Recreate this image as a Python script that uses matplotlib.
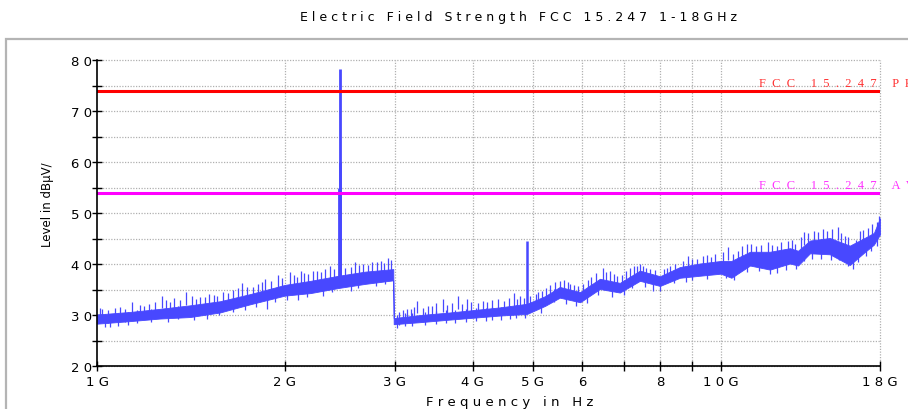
import matplotlib
matplotlib.use("Agg")
import matplotlib.pyplot as plt
from matplotlib.patches import Rectangle
from matplotlib.ticker import NullLocator

# band of the measured trace (GHz, dBuV/m)
band_freq = [1.00, 1.13, 1.26, 1.41, 1.575, 1.76, 2.00, 2.20, 2.44, 2.69, 2.985,
             2.99, 3.30, 3.68, 4.04, 4.43, 4.89, 5.23, 5.52, 5.95, 6.40, 6.89,
             7.42, 7.99, 8.60, 9.26, 10.0, 10.4, 11.14, 11.99, 12.91, 13.3,
             13.9, 14.96, 16.1, 17.0, 17.6, 18.0]
band_low = [28.3, 28.8, 29.3, 29.6, 30.5, 32.1, 33.8, 34.3, 35.3, 36.1, 36.8,
            28.2, 28.6, 29.1, 29.5, 29.9, 30.2, 31.8, 33.4, 32.5, 35.1, 34.4,
            36.7, 35.7, 37.3, 37.7, 38.1, 37.3, 39.7, 38.9, 40.1, 39.7,
            42.1, 41.9, 39.8, 42.3, 43.8, 45.8]
band_high = [30.1, 30.6, 31.2, 31.9, 32.7, 34.1, 35.9, 36.7, 37.7, 38.5, 39.0,
             29.4, 30.0, 30.5, 31.0, 31.5, 32.2, 33.7, 35.5, 34.5, 37.1, 36.3,
             38.7, 37.6, 39.4, 40.1, 40.6, 40.6, 42.4, 42.4, 43.1, 42.6,
             44.6, 45.1, 43.6, 45.1, 46.1, 49.0]

# narrow peaks sticking out of the top of the band
spike_freq = [1.01, 1.02, 1.04, 1.07, 1.09, 1.11, 1.14, 1.17, 1.19, 1.21, 1.24,
              1.27, 1.29, 1.31, 1.33, 1.36, 1.39, 1.42, 1.44, 1.46, 1.49, 1.51,
              1.54, 1.56, 1.59, 1.62, 1.65, 1.68, 1.71, 1.74, 1.78, 1.81, 1.84,
              1.86, 1.90, 1.95, 1.98,
              2.04, 2.07, 2.09, 2.12, 2.15, 2.18, 2.22, 2.25, 2.29, 2.32, 2.36,
              2.40, 2.50, 2.55, 2.59, 2.63, 2.67, 2.72, 2.76, 2.81, 2.85, 2.89,
              2.93, 2.96,
              3.05, 3.09, 3.14, 3.19, 3.22, 3.26, 3.33, 3.39, 3.45, 3.50, 3.59,
              3.64, 3.71, 3.79, 3.85, 3.92, 3.98, 4.08, 4.16, 4.22, 4.30, 4.40,
              4.50, 4.58, 4.67, 4.72, 4.77, 4.83,
              4.95, 5.05, 5.10, 5.17, 5.25, 5.33, 5.42, 5.53, 5.60, 5.68, 5.74,
              5.82, 5.90, 6.02, 6.12, 6.20, 6.30, 6.48, 6.55, 6.64, 6.75, 6.82,
              6.95, 7.05, 7.15, 7.25, 7.34, 7.42, 7.50, 7.60, 7.70, 7.85, 8.10,
              8.20, 8.30, 8.45, 8.70, 8.85, 9.00, 9.17, 9.35, 9.50, 9.65, 9.80,
              10.1, 10.28, 10.45, 10.65, 10.8, 11.0, 11.2, 11.4, 11.6, 11.9,
              12.1, 12.3, 12.5, 12.8, 13.0, 13.15, 13.45, 13.6, 13.8, 14.1,
              14.3, 14.6, 14.8, 15.1, 15.4, 15.6, 15.8, 16.0, 16.45, 16.7,
              16.9, 17.2, 17.5, 17.8, 17.95]
spike_top = [31.3, 31.2, 31.0, 31.4, 31.6, 31.2, 32.5, 32.0, 31.8, 32.2, 32.6,
             33.8, 32.9, 32.5, 33.3, 33.0, 34.5, 33.8, 33.2, 33.5, 33.6, 34.1,
             34.0, 33.7, 34.5, 34.3, 35.0, 35.3, 36.3, 35.4, 35.5, 36.1, 36.4,
             37.0, 36.6, 37.8, 37.3,
             38.4, 37.8, 37.5, 38.7, 38.2, 38.0, 38.6, 38.7, 38.4, 39.0, 39.7,
             39.0, 39.2, 39.5, 40.3, 39.8, 40.0, 39.9, 40.4, 40.3, 40.6, 40.2,
             41.2, 40.8,
             30.6, 30.9, 31.2, 31.1, 31.5, 32.8, 31.4, 31.8, 31.8, 32.3, 33.1,
             32.0, 32.4, 33.7, 32.2, 33.1, 32.5, 32.4, 32.8, 32.6, 32.9, 33.1,
             32.8, 33.3, 34.3, 33.1, 33.8, 33.4,
             33.7, 34.2, 34.6, 34.8, 35.3, 35.8, 36.5, 36.7, 36.9, 36.4, 36.1,
             35.9, 35.6, 36.0, 36.9, 37.5, 38.2, 39.2, 38.5, 38.7, 38.0, 37.7,
             37.8, 38.6, 39.2, 39.6, 39.7, 40.0, 39.7, 39.3, 39.0, 38.9, 39.1,
             39.3, 39.6, 40.0, 40.6, 41.6, 41.0, 41.0, 41.5, 41.8, 41.4, 42.0,
             42.3, 43.3, 42.0, 42.6, 43.5, 43.9, 44.0, 43.6, 43.8, 44.3,
             43.8, 43.6, 44.4, 44.6, 44.8, 44.0, 45.2, 46.2, 46.0, 46.4,
             46.2, 46.9, 46.5, 46.8, 47.2, 46.0, 45.5, 45.2, 44.8, 46.5,
             46.6, 47.0, 47.8, 48.2, 49.5]

# narrow drops below the bottom of the band
dip_freq = [1.03, 1.05, 1.08, 1.12, 1.16, 1.22, 1.30, 1.35, 1.43, 1.50, 1.57,
            1.65, 1.73, 1.80, 1.87, 1.93, 2.02, 2.10, 2.17, 2.30, 2.38, 2.55,
            2.62, 2.80, 2.90,
            3.03, 3.12, 3.20, 3.35, 3.50, 3.62, 3.75, 3.90, 4.05, 4.20, 4.30,
            4.45, 4.60, 4.70, 4.85,
            5.15, 5.40, 5.65, 5.85, 6.10, 6.35, 6.70, 7.00, 7.20, 7.55, 7.80,
            8.00, 8.40, 8.80, 9.00, 9.50, 10.2, 10.5, 11.0, 11.5, 12.0, 12.3,
            12.7, 13.2, 13.6, 14.0, 14.5, 15.0, 15.5, 16.0, 16.3, 16.6, 17.1,
            17.4, 17.8]
dip_bottom = [27.7, 27.6, 27.9, 28.0, 28.4, 28.7, 28.6, 29.2, 29.0, 29.3, 30.0,
              30.5, 31.0, 31.5, 31.2, 32.6, 33.0, 33.0, 33.6, 33.8, 34.6, 34.8,
              35.2, 35.6, 36.0,
              27.5, 27.9, 27.9, 28.0, 28.3, 28.5, 28.4, 28.7, 28.9, 28.8, 29.0,
              29.1, 29.2, 29.4, 29.5,
              30.4, 32.6, 32.2, 31.8, 32.4, 34.0, 33.6, 34.0, 35.2, 35.5, 34.8,
              34.8, 36.3, 36.5, 36.9, 37.0, 37.2, 36.9, 38.5, 38.6, 38.1, 38.3,
              38.9, 39.0, 40.5, 41.0, 41.0, 40.8, 40.8, 39.6, 39.0, 40.3, 41.5,
              42.6, 43.5]

# carrier and its harmonic
carrier_freq = [2.45, 2.452, 2.447, 4.89]
carrier_top = [78.3, 60.0, 55.0, 44.6]
carrier_base = [36.0, 36.0, 36.0, 31.0]

limit_pk = 74
limit_av = 54
xticks = [1, 2, 3, 4, 5, 6, 7, 8, 9, 10, 18]
xtick_labels = ["1G", "2G", "3G", "4G", "5G", "6", "", "8", "", "10G", "18G"]
yticks = [20, 30, 40, 50, 60, 70, 80]
yticks_minor = [25, 35, 45, 55, 65, 75]

TRACE = "#4848ff"
GRID = "#b0b0b0"
GRID_LS = (0, (1, 1.2))
SPIKE_LEN = 2.5


def spaced(s, gap=" "):
    return gap.join(s)


W, H = 908, 410
fig = plt.figure(figsize=(W / 100, H / 100), dpi=100)
ax = fig.add_axes([97 / W, 1 - 367 / H, 783 / W, 306 / H])

# outer grey frame
fig.add_artist(Rectangle((6 / W, -0.2), 2.0, (H - 40) / H + 0.2,
                         transform=fig.transFigure, fill=False,
                         ec="#b4b4b4", lw=1.6))

ax.set_xscale("log")
ax.set_xlim(1, 18)
ax.set_ylim(20, 80)

# dotted grid, drawn as plain lines
ax.hlines(yticks + yticks_minor, 1, 18, colors=GRID, linestyles=[GRID_LS],
          lw=0.9, zorder=1, clip_on=False)
ax.vlines(xticks[1:], 20, 80, colors=GRID, linestyles=[GRID_LS],
          lw=0.9, zorder=1, clip_on=False)

ax.fill_between(band_freq, band_low, band_high, color=TRACE, lw=0.6, zorder=3)
ax.vlines(spike_freq, [t - SPIKE_LEN for t in spike_top], spike_top,
          color=TRACE, lw=0.9, zorder=3)
ax.vlines(dip_freq, dip_bottom, [b + SPIKE_LEN for b in dip_bottom],
          color=TRACE, lw=0.9, zorder=3)
ax.vlines(carrier_freq, carrier_base, carrier_top,
          color=TRACE, lw=[2.0, 2.0, 2.0, 1.8], zorder=3)

ax.axhline(limit_pk, color="#ff0000", lw=2.2, zorder=4)
ax.axhline(limit_av, color="#ff00ff", lw=2.2, zorder=4)
ax.text(11.5, limit_pk + 0.4, spaced("FCC 15.247 PK", "  "), color="#ff3030",
        family="Liberation Serif", fontsize=9, va="bottom", ha="left",
        clip_on=False)
ax.text(11.5, limit_av + 0.4, spaced("FCC 15.247 AV", "  "), color="#ff30ff",
        family="Liberation Serif", fontsize=9, va="bottom", ha="left",
        clip_on=False)

ax.set_xticks(xticks)
ax.set_xticklabels([spaced(t) for t in xtick_labels])
ax.xaxis.set_minor_locator(NullLocator())
ax.set_yticks(yticks)
ax.set_yticklabels([spaced(str(t)) for t in yticks])
ax.set_yticks(yticks_minor, minor=True)

ax.tick_params(axis="both", which="major", direction="inout", length=7,
               width=1, labelsize=9.5)
ax.tick_params(axis="y", which="major", pad=0)
ax.tick_params(axis="x", which="major", pad=3)
ax.tick_params(axis="y", which="minor", direction="inout", length=7, width=1)

for side in ("top", "right"):
    ax.spines[side].set_visible(False)
for side in ("left", "bottom"):
    ax.spines[side].set_linewidth(1.2)
    ax.spines[side].set_zorder(5)

fig.text(519 / W, 1 - 17 / H, spaced("Electric Field Strength FCC 15.247 1-18GHz"),
         ha="center", va="center", fontsize=9)
fig.text(510 / W, 1 - 403 / H, spaced("Frequency in Hz"),
         ha="center", va="center", fontsize=9.5)
fig.text(48 / W, 1 - 205 / H, "Level in dBµV/", rotation=90,
         ha="center", va="center", fontsize=8.5)

fig.savefig("out.png", dpi=100)
